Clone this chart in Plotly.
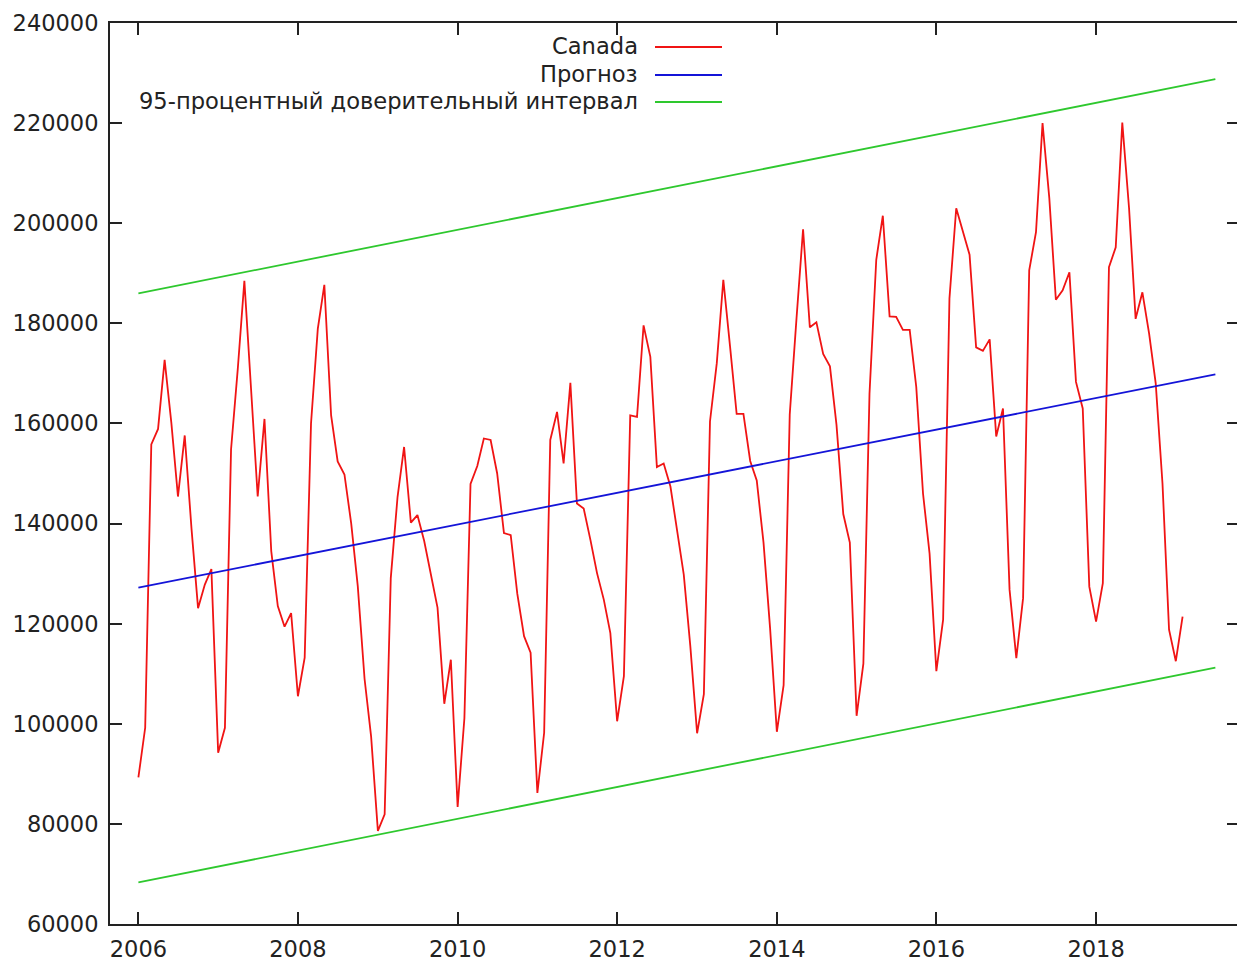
import pandas as pd
import plotly.graph_objects as go

# Monthly values, Jan 2006 .. Feb 2019
canada_2006 = [89300, 99200, 155800, 158900, 172700, 160000, 145400, 157600, 139000, 123100, 127800, 130900]
canada_2007 = [94200, 99200, 154800, 171000, 188500, 166000, 145400, 160900, 134500, 123500, 119400, 122100]
canada_2008 = [105500, 113200, 160000, 178900, 187700, 161600, 152400, 149800, 140000, 127500, 109000, 97500]
canada_2009 = [78600, 81900, 129100, 145300, 155300, 140200, 141700, 136500, 129900, 123200, 104000, 112800]
canada_2010 = [83400, 101100, 147900, 151500, 157000, 156700, 150000, 138100, 137700, 126000, 117500, 114200]
canada_2011 = [86200, 98200, 156700, 162300, 152000, 168100, 144000, 143000, 136700, 130100, 124800, 118100]
canada_2012 = [100500, 109500, 161600, 161300, 179600, 173300, 151300, 152000, 147400, 139000, 129800, 115500]
canada_2013 = [98100, 105900, 160400, 172000, 188700, 175300, 161900, 161900, 152500, 148600, 136200, 119100]
canada_2014 = [98400, 107700, 161800, 181000, 198800, 179200, 180200, 173900, 171400, 159700, 141900, 136200]
canada_2015 = [101600, 112000, 165900, 192700, 201500, 181400, 181300, 178700, 178700, 167300, 146000, 134000]
canada_2016 = [110500, 120800, 185000, 203000, 198200, 193700, 175200, 174500, 176800, 157400, 163000, 126800]
canada_2017 = [113100, 125100, 190600, 198200, 220000, 205000, 184700, 186600, 190200, 168300, 163000, 127400]
canada_2018 = [120400, 128100, 191200, 195200, 220100, 203000, 180900, 186200, 177900, 168000, 148000, 118800]
canada_2019 = [112500, 121400]

canada = (canada_2006 + canada_2007 + canada_2008 + canada_2009 + canada_2010 + canada_2011
          + canada_2012 + canada_2013 + canada_2014 + canada_2015 + canada_2016 + canada_2017
          + canada_2018 + canada_2019)
months = pd.date_range("2006-01-01", periods=len(canada), freq="MS")

forecast_x = ["2006-01-01", "2019-07-01"]
forecast_y = [127200, 169800]
ci_upper = [186000, 228800]
ci_lower = [68300, 111200]

legend_labels = ["Canada", "Прогноз", "95-процентный доверительный интервал"]

RED = "#f01414"
BLUE = "#1414d8"
GREEN = "#2ec82e"
FONT = "DejaVu Sans"
LW = 1.8

fig = go.Figure()
fig.add_trace(go.Scatter(x=months, y=canada, mode="lines", line=dict(color=RED, width=LW), showlegend=False))
fig.add_trace(go.Scatter(x=forecast_x, y=forecast_y, mode="lines", line=dict(color=BLUE, width=LW), showlegend=False))
fig.add_trace(go.Scatter(x=forecast_x, y=ci_upper, mode="lines", line=dict(color=GREEN, width=LW), showlegend=False))
fig.add_trace(go.Scatter(x=forecast_x, y=ci_lower, mode="lines", line=dict(color=GREEN, width=LW), showlegend=False))
# invisible trace to drive right-hand mirrored ticks
fig.add_trace(go.Scatter(x=forecast_x, y=forecast_y, mode="lines", line=dict(width=0), yaxis="y2",
                         showlegend=False, hoverinfo="skip", opacity=0))

L, T, B = 110, 23, 38
W, H = 1237, 962
pw = W - L
ph = H - T - B

def px_x(p):
    return (p - L) / pw

def px_y(p):
    return (H - B - p) / ph

legend_colors = [RED, BLUE, GREEN]
legend_rows = [46, 74, 101]
for lab, col, row in zip(legend_labels, legend_colors, legend_rows):
    fig.add_annotation(x=px_x(640), y=px_y(row), xref="paper", yref="paper", text=lab,
                       showarrow=False, xanchor="right", yanchor="middle",
                       font=dict(family=FONT, size=22.6, color="#222222"))
    fig.add_shape(type="line", xref="paper", yref="paper", x0=px_x(655), x1=px_x(722),
                  y0=px_y(row + 1), y1=px_y(row + 1), line=dict(color=col, width=LW))

fig.update_layout(
    width=W, height=H,
    margin=dict(l=L, r=0, t=T, b=B, pad=0, autoexpand=False),
    paper_bgcolor="white", plot_bgcolor="white",
    font=dict(family=FONT, size=22.5, color="#222222"),
    xaxis=dict(type="date", range=["2005-08-24", "2019-10-08"], tick0="2006-01-01", dtick="M24",
               tickformat="%Y", showgrid=False, zeroline=False, showline=True, linecolor="#222222",
               linewidth=2, mirror="ticks", ticks="inside", ticklen=12, tickwidth=2, tickcolor="#222222",
               ticklabelstandoff=4, automargin=False),
    yaxis=dict(range=[60000, 240000], dtick=20000, showgrid=False, zeroline=False, showline=True,
               linecolor="#222222", linewidth=2, ticks="inside", ticklen=12, tickwidth=2,
               tickcolor="#222222", ticklabelstandoff=5, tickformat="d", automargin=False),
    yaxis2=dict(range=[60000, 240000], dtick=20000, overlaying="y", side="right", showgrid=False,
                zeroline=False, showline=False, ticks="inside", ticklen=10, tickwidth=2,
                tickcolor="#222222", showticklabels=False, automargin=False),
)

fig.write_html("out.html", config={"displayModeBar": False},
               post_script="document.body.style.margin='0';document.body.style.overflow='hidden';")
